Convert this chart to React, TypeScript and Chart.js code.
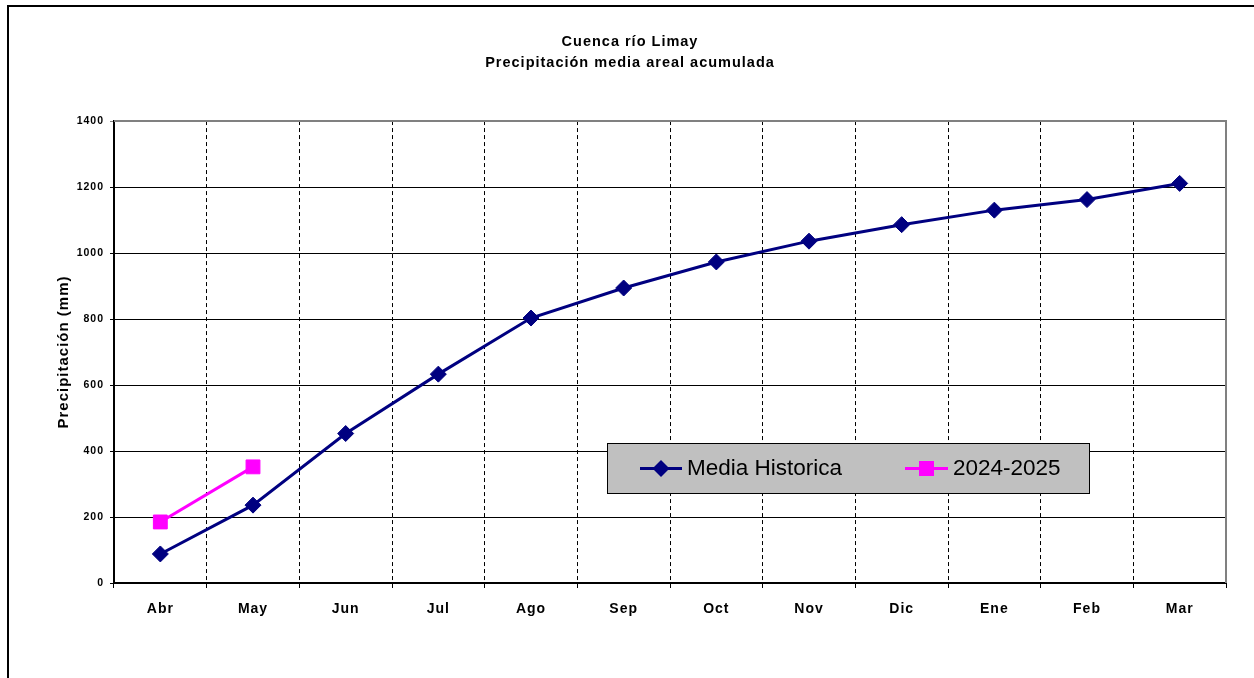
import React, { useEffect, useRef } from 'react';
import { Chart, registerables } from 'chart.js';

Chart.register(...registerables);

const months = ['Abr', 'May', 'Jun', 'Jul', 'Ago', 'Sep', 'Oct', 'Nov', 'Dic', 'Ene', 'Feb', 'Mar'];
const mediaHistorica = [88, 236, 453, 633, 803, 894, 973, 1036, 1086, 1130, 1162, 1211];
const temporada2024 = [185, 352];
const seriesLabels = ['Media Historica', '2024-2025'];
const titleLines = ['Cuenca río Limay', 'Precipitación media areal acumulada'];
const yAxisTitle = 'Precipitación (mm)';
const yMin = 0;
const yMax = 1400;
const yStep = 200;

const FONT = '"Liberation Sans", Arial, Helvetica, sans-serif';
const NAVY = '#000080';
const MAGENTA = '#FF00FF';

const spacingPlugin = {
  id: 'letterSpacing',
  beforeUpdate(chart: any) {
    chart.ctx.letterSpacing = '1px';
  },
  beforeDraw(chart: any) {
    chart.ctx.letterSpacing = '1px';
  },
};

const framePlugin = {
  id: 'frame',
  beforeDraw(chart: any) {
    const ctx = chart.ctx;
    ctx.save();
    ctx.fillStyle = '#000';
    ctx.fillRect(7, 5, 2, chart.height - 5);
    ctx.fillRect(7, 5, chart.width - 7, 2);
    ctx.restore();
  },
  beforeDatasetsDraw(chart: any) {
    const { ctx, chartArea } = chart;
    ctx.save();
    ctx.strokeStyle = '#808080';
    ctx.lineWidth = 2;
    ctx.beginPath();
    ctx.moveTo(chartArea.left, chartArea.top);
    ctx.lineTo(chartArea.right, chartArea.top);
    ctx.lineTo(chartArea.right, chartArea.bottom);
    ctx.stroke();
    ctx.restore();
  },
};

const boxLegendPlugin = {
  id: 'boxLegend',
  afterDraw(chart: any) {
    const ctx = chart.ctx;
    const box = { x: 607, y: 443, w: 483, h: 51 };
    ctx.save();
    ctx.letterSpacing = '0px';
    ctx.fillStyle = '#C0C0C0';
    ctx.fillRect(box.x, box.y, box.w, box.h);
    ctx.strokeStyle = '#000';
    ctx.lineWidth = 1;
    ctx.strokeRect(box.x + 0.5, box.y + 0.5, box.w - 1, box.h - 1);
    const cy = box.y + 25.5;
    const entries = [
      { x0: 640, x1: 682, text: 687 },
      { x0: 905, x1: 948, text: 953 },
    ];
    chart.data.datasets.forEach((ds: any, i: number) => {
      const e = entries[i];
      if (!e) return;
      ctx.strokeStyle = ds.borderColor;
      ctx.lineWidth = 3;
      ctx.beginPath();
      ctx.moveTo(e.x0, cy);
      ctx.lineTo(e.x1, cy);
      ctx.stroke();
      const cx = (e.x0 + e.x1) / 2;
      ctx.fillStyle = ds.borderColor;
      if (ds.pointStyle === 'rectRot') {
        const r = 8.5;
        ctx.beginPath();
        ctx.moveTo(cx - r, cy);
        ctx.lineTo(cx, cy - r);
        ctx.lineTo(cx + r, cy);
        ctx.lineTo(cx, cy + r);
        ctx.closePath();
        ctx.fill();
      } else {
        const s = 7.5;
        ctx.fillRect(cx - s, cy - s, 2 * s, 2 * s);
      }
      ctx.fillStyle = '#000';
      ctx.font = `22.5px ${FONT}`;
      ctx.textAlign = 'left';
      ctx.textBaseline = 'middle';
      ctx.fillText(ds.label, e.text, cy);
    });
    ctx.restore();
  },
};

export default function App() {
  const canvasRef = useRef<HTMLCanvasElement | null>(null);

  useEffect(() => {
    if (!canvasRef.current) return;
    const chart = new Chart(canvasRef.current, {
      type: 'line',
      data: {
        labels: months,
        datasets: [
          {
            label: seriesLabels[0],
            data: mediaHistorica,
            borderColor: NAVY,
            backgroundColor: NAVY,
            borderWidth: 3,
            pointStyle: 'rectRot',
            pointRadius: 8,
            pointBorderWidth: 1,
            pointBackgroundColor: NAVY,
            pointBorderColor: NAVY,
            tension: 0,
            fill: false,
            yAxisID: 'y',
          },
          {
            label: seriesLabels[1],
            data: temporada2024,
            borderColor: MAGENTA,
            backgroundColor: MAGENTA,
            borderWidth: 3,
            pointStyle: 'rect',
            pointRadius: 9.8,
            pointBorderWidth: 1,
            pointBackgroundColor: MAGENTA,
            pointBorderColor: MAGENTA,
            tension: 0,
            fill: false,
            yAxisID: 'y',
          },
        ],
      },
      options: {
        responsive: false,
        animation: false,
        devicePixelRatio: 1,
        layout: { padding: { top: 31, left: 8, right: 2, bottom: 55 } },
        plugins: {
          legend: { display: false },
          tooltip: { enabled: false },
          title: {
            display: true,
            text: titleLines,
            color: '#000',
            font: { family: FONT, size: 14.5, weight: 'bold', lineHeight: 1.45 },
            padding: { top: 0, bottom: 48 },
          },
        },
        scales: {
          x: {
            offset: true,
            afterFit: (s: any) => {
              s.height = 40;
            },
            grid: {
              offset: true,
              lineWidth: 1,
              color: (c: any) => (c.type === 'tick' && c.index > 0 ? '#000' : 'rgba(0,0,0,0)'),
              tickColor: '#000',
              tickLength: 5,
            },
            border: { color: '#000', width: 2, dash: [4, 3] },
            ticks: {
              color: '#000',
              padding: 13,
              autoSkip: false,
              maxRotation: 0,
              font: { family: FONT, size: 14, weight: 'bold' },
            },
          },
          y: {
            min: yMin,
            max: yMax,
            afterFit: (s: any) => {
              s.width = 106;
            },
            ticks: {
              stepSize: yStep,
              color: '#000',
              padding: 6,
              font: { family: FONT, size: 10.5, weight: 'bold' },
              callback: (v: any) => String(v),
            },
            grid: {
              lineWidth: 1,
              color: (c: any) => (c.tick && c.tick.value === yMax ? 'rgba(0,0,0,0)' : '#000'),
              tickColor: (c: any) => (c.tick && c.tick.value === yMax ? '#808080' : '#000'),
              tickLength: 4,
            },
            border: { color: '#000', width: 2 },
            title: {
              display: true,
              text: yAxisTitle,
              color: '#000',
              font: { family: FONT, size: 15, weight: 'bold' },
              padding: { top: 47, bottom: 0 },
            },
          },
          y2: {
            position: 'right',
            display: true,
            afterFit: (s: any) => {
              s.width = 26;
            },
            grid: { display: false, drawOnChartArea: false },
            ticks: { display: false },
            border: { display: false },
          },
        },
      } as any,
      plugins: [spacingPlugin, framePlugin, boxLegendPlugin],
    });
    return () => chart.destroy();
  }, []);

  return (
    <div style={{ position: 'fixed', left: 0, top: 0, width: 1254, height: 678, background: '#fff' }}>
      <canvas ref={canvasRef} width={1254} height={678} style={{ display: 'block' }} />
    </div>
  );
}
